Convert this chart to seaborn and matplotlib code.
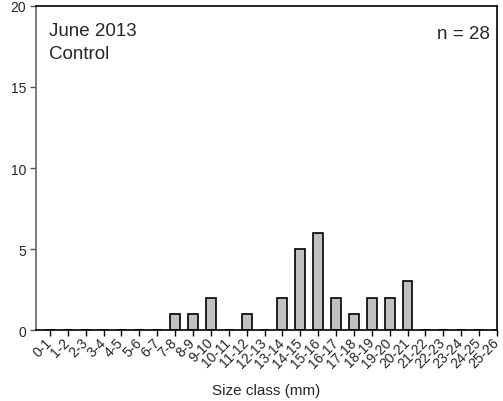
import matplotlib
matplotlib.use("Agg")
import matplotlib.pyplot as plt
import seaborn as sns

size_classes = [f"{i}-{i+1}" for i in range(26)]
counts = [0, 0, 0, 0, 0, 0, 0, 1, 1, 2, 0, 1, 0, 2, 5, 6, 2, 1, 2, 2, 3, 0, 0, 0, 0, 0]

sns.set_style("white")
plt.rcParams["font.family"] = ["Liberation Sans", "DejaVu Sans"]

fig = plt.figure(figsize=(5.03, 4.02), dpi=100)
ax = fig.add_axes([0.0716, 0.1766, 0.9164, 0.806])

sns.barplot(x=size_classes, y=counts, color="#c0c0c0", edgecolor="black",
            linewidth=1.2, width=0.55, saturation=1, ax=ax)

ax.set_xlim(-0.78, 25)
ax.set_ylim(0, 20)
ax.set_yticks([0, 5, 10, 15, 20])
ax.tick_params(axis="y", direction="out", length=4, width=1, labelsize=10, pad=3, left=True, color="#555555")
ax.tick_params(axis="x", direction="out", length=4, width=1, labelsize=10, pad=3, bottom=True, color="black")
plt.setp(ax.get_xticklabels(), rotation=45, ha="right", va="center", rotation_mode="anchor")

for s in ax.spines.values():
    s.set_visible(True)
    s.set_linewidth(1.2)
    s.set_color("black")
ax.spines["left"].set_color("#666666")

ax.set_xlabel("Size class (mm)", fontsize=11, va="top")
ax.xaxis.set_label_coords(0.5, -0.163)
ax.set_ylabel("")

ax.text(0.028, 0.95, "June 2013\nControl", transform=ax.transAxes, ha="left", va="top",
        fontsize=13.5, linespacing=1.45)
ax.text(0.985, 0.942, "n = 28", transform=ax.transAxes, ha="right", va="top", fontsize=13.5)

fig.savefig("out.png", dpi=100)
